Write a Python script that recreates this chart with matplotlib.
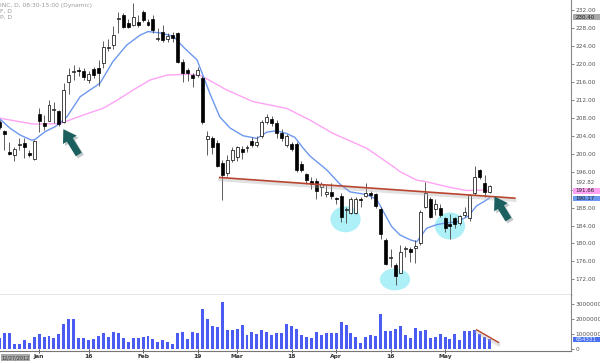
import numpy as np
import matplotlib.pyplot as plt
from matplotlib.patches import Ellipse, Rectangle
import matplotlib.patheffects as pe

# ---- daily bars (Dec 19 2012 .. May 14 2013) ----
opens = [207.0, 205.0, 200.4, 199.7, 202.0, 202.4, 200.1, 198.9, 208.8, 206.9,
         207.3, 209.8, 209.4, 207.0, 216.0, 218.2, 218.6, 218.5, 216.4, 218.9,
         219.0, 220.1, 223.6, 224.2, 230.0, 230.9, 229.2, 228.7, 229.4, 231.6,
         229.4, 229.9, 225.6, 227.2, 225.5, 226.5, 226.8, 220.5, 218.6, 217.5,
         217.5, 216.8, 203.2, 203.6, 202.4, 197.9, 195.6, 198.6, 199.3, 201.0,
         201.3, 202.8, 202.0, 203.9, 207.1, 207.7, 206.8, 204.7, 201.9, 202.2,
         202.2, 197.7, 195.5, 194.0, 194.0, 192.5, 191.0, 191.5, 190.1, 190.6,
         187.5, 186.8, 186.8, 189.9, 190.6, 191.0, 191.0, 187.6, 180.8, 176.8,
         175.2, 173.4, 178.7, 178.7, 178.9, 180.0, 188.1, 189.8, 187.6, 188.0,
         185.6, 184.2, 185.6, 184.5, 186.3, 185.6, 191.2, 196.4, 193.5, 191.5]
highs = [207.6, 205.3, 202.7, 201.6, 203.4, 203.6, 200.8, 203.1, 210.1, 208.6,
         212.0, 211.6, 209.7, 215.8, 219.0, 219.8, 219.3, 219.0, 218.4, 219.3,
         220.8, 225.0, 225.5, 228.4, 231.6, 231.3, 230.1, 233.5, 231.0, 232.0,
         230.0, 230.9, 227.9, 228.6, 226.8, 227.2, 227.0, 221.0, 219.1, 217.9,
         219.4, 217.2, 205.1, 204.0, 203.0, 198.7, 199.6, 201.5, 201.8, 201.7,
         201.9, 203.8, 204.0, 207.5, 208.8, 208.3, 207.6, 205.5, 204.4, 202.7,
         202.5, 198.3, 195.8, 194.8, 194.5, 193.8, 193.0, 193.4, 190.4, 191.3,
         188.2, 190.3, 190.3, 190.3, 193.4, 191.6, 191.2, 188.2, 181.2, 178.7,
         175.6, 179.7, 179.4, 179.2, 180.8, 187.5, 193.8, 190.4, 189.8, 188.8,
         186.0, 186.5, 186.0, 186.4, 188.2, 191.1, 197.3, 196.7, 195.2, 193.0]
lows = [205.5, 200.8, 199.7, 198.4, 200.8, 199.0, 199.2, 198.6, 204.9, 205.3,
        207.2, 206.8, 206.2, 206.8, 213.4, 216.4, 217.4, 216.4, 215.8, 216.9,
        215.0, 219.0, 222.8, 223.3, 226.8, 228.0, 227.9, 228.4, 228.2, 229.3,
        228.4, 226.9, 225.0, 224.9, 224.9, 224.9, 220.2, 216.0, 216.2, 214.8,
        217.0, 206.6, 199.7, 200.0, 197.0, 189.7, 195.0, 198.1, 198.3, 198.8,
        200.4, 201.6, 201.4, 203.6, 206.6, 206.1, 203.6, 202.8, 201.4, 200.6,
        195.9, 195.9, 193.2, 192.1, 190.0, 190.6, 190.3, 190.0, 188.9, 184.8,
        184.5, 186.6, 186.6, 188.1, 190.3, 190.0, 187.8, 180.9, 175.2, 174.8,
        170.8, 173.4, 177.1, 175.9, 175.6, 179.7, 187.8, 185.7, 186.3, 185.8,
        182.6, 181.1, 183.4, 184.1, 185.8, 185.1, 190.9, 194.3, 190.4, 191.3]
closes = [206.0, 204.4, 199.9, 201.0, 202.2, 201.4, 199.6, 202.9, 207.3, 206.2,
          210.8, 210.0, 206.6, 214.2, 217.5, 218.4, 218.4, 217.0, 217.7, 217.5,
          218.0, 223.8, 223.8, 226.4, 230.2, 228.3, 228.3, 230.5, 228.7, 229.8,
          228.7, 227.5, 225.8, 225.3, 226.2, 225.7, 220.5, 217.9, 217.9, 216.8,
          218.6, 207.1, 203.9, 201.4, 197.3, 195.3, 198.7, 200.8, 201.4, 200.4,
          201.5, 201.9, 202.7, 207.1, 208.1, 206.8, 204.5, 203.6, 203.9, 201.0,
          196.4, 196.4, 194.2, 193.2, 191.6, 193.2, 191.5, 190.6, 189.9, 186.0,
          187.7, 190.0, 189.8, 189.7, 191.2, 190.9, 188.3, 182.1, 175.4, 177.0,
          172.8, 178.0, 178.8, 178.2, 179.4, 187.1, 191.2, 186.0, 188.8, 186.3,
          183.4, 184.0, 184.3, 186.1, 187.1, 190.8, 194.9, 194.9, 191.5, 192.82]
volume = [730000, 1070000, 1110000, 370000, 370000, 640000, 440000, 820000, 1030000, 800000,
          910000, 730000, 1030000, 1680000, 2010000, 1990000, 730000, 750000, 640000, 660000,
          910000, 1090000, 800000, 1180000, 1090000, 780000, 510000, 750000, 750000, 840000,
          910000, 660000, 510000, 620000, 510000, 350000, 1090000, 1160000, 710000, 1180000,
          1090000, 2670000, 2040000, 1540000, 1500000, 3140000, 1270000, 1290000, 1360000, 1650000,
          960000, 1130000, 1030000, 1320000, 1130000, 980000, 1110000, 1110000, 1700000, 1560000,
          1380000, 980000, 840000, 750000, 1140000, 980000, 1070000, 1070000, 1090000, 1790000,
          1650000, 1070000, 820000, 420000, 820000, 960000, 890000, 2330000, 1250000, 1200000,
          1360000, 1540000, 960000, 780000, 1430000, 1200000, 1290000, 730000, 840000, 1040000,
          840000, 690000, 1020000, 620000, 1220000, 1220000, 1310000, 1020000, 840000, 654331]

# moving averages (bar index, price)
fast_idx = [0.1, 2.1, 4.1, 6.5, 7.2, 9.2, 11.2, 12.2, 13.6, 16.3, 20.3, 22.9, 25.7, 28.4,
            30.0, 32.4, 35.1, 37.1, 39.9, 42.5, 44.5, 46.6, 49.2, 52.0, 54.0, 56.0, 58.0,
            59.7, 61.3, 62.7, 66.1, 68.8, 70.8, 74.2, 76.2, 77.5, 79.2, 80.9, 83.0, 84.3,
            85.3, 86.3, 88.3, 90.3, 92.4, 94.7, 96.4, 98.1, 99.0]
fast_val = [207.7, 205.7, 204.2, 203.0, 203.2, 204.9, 206.0, 206.8, 208.2, 212.7, 215.7,
            220.5, 224.2, 226.4, 227.2, 226.9, 226.2, 223.8, 220.9, 213.4, 208.2, 205.7,
            204.0, 203.4, 204.8, 205.1, 204.5, 203.6, 201.3, 199.5, 196.4, 193.2, 191.5,
            190.9, 189.8, 187.2, 183.8, 181.9, 180.8, 180.4, 181.9, 183.4, 184.2, 184.6,
            184.8, 186.1, 188.4, 189.5, 190.17]
slow_idx = [0.1, 6.8, 12.2, 16.9, 20.9, 23.9, 27.0, 30.4, 33.8, 37.9, 40.5, 45.9, 51.2,
            58.0, 62.7, 67.4, 74.2, 79.6, 80.9, 84.3, 86.0, 91.0, 94.4, 97.7, 99.0]
slow_val = [207.9, 206.6, 206.7, 208.6, 210.1, 212.0, 214.2, 216.4, 217.5, 217.7, 217.5,
            214.2, 211.6, 210.1, 207.5, 204.5, 201.2, 197.1, 196.0, 194.1, 193.8, 192.5,
            191.8, 191.9, 191.66]

date_ticks = [8, 18, 29, 40, 48, 59, 68, 79, 90]
date_labels = ["Jan", "16", "Feb", "19", "Mar", "18", "Apr", "16", "May"]
price_ticks = np.arange(172, 233, 4)
vol_ticks = [0, 1000000, 2000000, 3000000]

W, H = 600, 361
fig = plt.figure(figsize=(W / 100, H / 100), dpi=100)
ax = fig.add_axes([0, 1 - 295 / H, 571 / W, 295 / H])
axv = fig.add_axes([0, 1 - 351 / H, 571 / W, 56 / H], sharex=ax)

x = np.arange(len(opens))
o = np.array(opens); c = np.array(closes)
up = c >= o

# ---- annotations under the candles ----
for cx, cy, w, h in [(69.9, 185.4, 6.1, 5.8), (79.9, 172.0, 6.1, 4.9), (91.0, 183.9, 6.1, 6.0)]:
    ax.add_patch(Ellipse((cx, cy), w, h, facecolor="#aef0f8", edgecolor="none", zorder=1))

ax.plot(slow_idx, slow_val, color="#ffa3f5", lw=1.0, zorder=2, solid_joinstyle="round")
ax.plot(fast_idx, fast_val, color="#6c98f0", lw=1.0, zorder=2, solid_joinstyle="round")

# ---- candles ----
ax.vlines(x, lows, highs, color="#444444", lw=0.6, zorder=3)
body_lo = np.minimum(o, c)
body_h = np.maximum(np.abs(c - o), 0.25)
ax.bar(x, body_h, bottom=body_lo, width=0.6,
       color=np.where(up, "white", "black"), edgecolor="black", lw=0.5, zorder=4)

# ---- trend line + arrows ----
shadow = [pe.SimpleLineShadow(offset=(0, -1.5), shadow_color="#aaaaaa", alpha=0.35, linewidth=2.5), pe.Normal()]
ax.plot([44.5, 104.1], [194.7, 190.1], color="#b9452f", lw=1.2, zorder=5, path_effects=shadow)
for tail, head in [((16.3, 199.3), (12.6, 206.0)), ((103.1, 184.8), (99.7, 191.0))]:
    ax.annotate("", xy=head, xytext=tail, zorder=6,
                arrowprops=dict(arrowstyle="simple,head_length=0.9,head_width=1.15,tail_width=0.5",
                                mutation_scale=10, color="#1c5f5f", lw=0,
                                path_effects=[pe.SimplePatchShadow(offset=(1.5, -1.5), alpha=0.25), pe.Normal()]))

ax.set_xlim(0.1, 115.45)
ax.set_ylim(168.53, 234.23)
ax.yaxis.tick_right()
ax.set_yticks(price_ticks)
ax.set_yticklabels([f"{v:.2f}" for v in price_ticks])
ax.tick_params(axis="y", labelsize=4.2, colors="#555555", length=2, width=0.5, pad=1)
ax.tick_params(axis="x", bottom=False, labelbottom=False)
for s in ["left", "top"]:
    ax.spines[s].set_visible(False)
ax.spines["right"].set_color("#888888")
ax.spines["bottom"].set_color("#777777")
ax.spines["bottom"].set_linewidth(1.0)


# price tags on the axis: a band from the axis to the figure edge, text on top
def tag(a, y, text, fc, half, tc="#222222"):
    a.add_patch(Rectangle((1.003, y - half), 0.06, 2 * half, transform=a.get_yaxis_transform(),
                          facecolor=fc, edgecolor="none", clip_on=False, zorder=7))
    a.text(1.008, y, text, transform=a.get_yaxis_transform(), fontsize=4.0, color=tc,
           va="center", ha="left", clip_on=False, zorder=8)


tag(ax, 230.40, "230.40", "#a8a8a8", 0.7)
ax.text(1.008, 193.6, "192.82", transform=ax.get_yaxis_transform(), fontsize=4.0,
        color="#555555", va="center", ha="left")
tag(ax, 191.75, "191.66", "#ffa3f5", 0.62)
tag(ax, 190.05, "190.17", "#6c98f0", 0.62)

# ---- volume ----
axv.bar(x, volume, width=0.6, color="#4a5cf2", zorder=2)
axv.plot([96.4, 100.8], [1300000, 460000], color="#b9452f", lw=1.0, zorder=3, path_effects=shadow)
axv.set_ylim(-113000, 3620000)
axv.yaxis.tick_right()
axv.set_yticks(vol_ticks)
axv.set_yticklabels([str(v) for v in vol_ticks])
axv.tick_params(axis="y", labelsize=4.2, colors="#555555", length=2, width=0.5, pad=1)
axv.set_xticks(date_ticks)
axv.set_xticklabels(date_labels)
axv.tick_params(axis="x", labelsize=4.3, colors="#333333", length=3, width=0.6,
                direction="inout", pad=1)
for lab in axv.get_xticklabels():
    lab.set_fontweight("bold")
axv.spines["left"].set_visible(False)
axv.spines["top"].set_visible(False)
axv.spines["right"].set_color("#888888")
axv.spines["bottom"].set_color("#777777")
tag(axv, volume[-1], str(volume[-1]), "#4a72f0", 190000, tc="#e8eeff")

# ---- header text and date box ----
fig.text(0 / W, 1 - 5 / H, "INC, D, 08:30-15:00 (Dynamic)", fontsize=4.3, color="#9a9a9a", va="center")
fig.text(0 / W, 1 - 11 / H, "F, D", fontsize=4.3, color="#9a9a9a", va="center")
fig.text(0 / W, 1 - 17 / H, "P, D", fontsize=4.3, color="#9a9a9a", va="center")
fig.text(1.5 / W, 1 - 357.5 / H, "12/27/2012", fontsize=3.5, color="#333333", va="center",
         bbox=dict(boxstyle="square,pad=0.12", fc="#a8a8a8", ec="none"), zorder=10)

fig.savefig("out.png", dpi=100)
